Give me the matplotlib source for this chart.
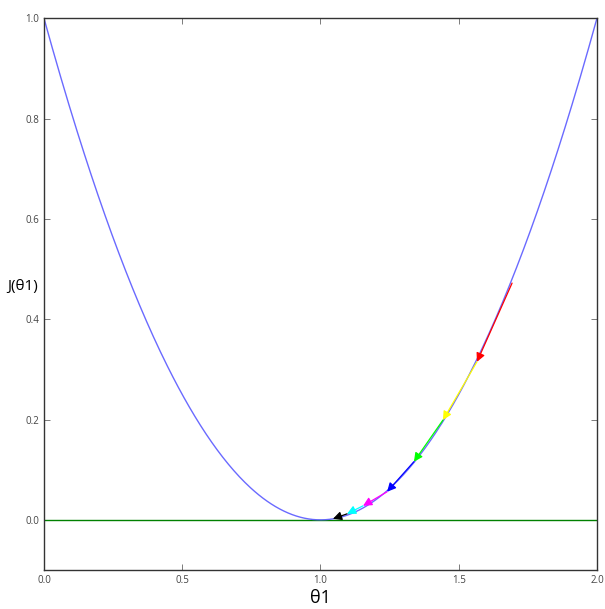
import numpy as np
import matplotlib.pyplot as plt

# punkty spadku gradientu
theta_steps = [1.693, 1.566, 1.443, 1.338, 1.241, 1.154, 1.096, 1.045]
cost_steps = [0.472, 0.315, 0.199, 0.116, 0.056, 0.028, 0.012, 0.002]
arrow_colors = ['red', 'yellow', 'lime', 'blue', 'magenta', 'cyan', 'black']

x_ticks = [0.0, 0.5, 1.0, 1.5, 2.0]
y_ticks = [0.0, 0.2, 0.4, 0.6, 0.8, 1.0]


def cost(theta):
    return (theta - 1.0) ** 2


plt.rcParams['font.family'] = ['Open Sans', 'DejaVu Sans']

fig = plt.figure(figsize=(6.05, 6.09), dpi=100)
ax = fig.add_axes([0.0727, 0.064, 0.914, 0.906])

theta = np.linspace(0, 2, 400)
ax.axhline(0, color='green', lw=1.0)

for i, c in enumerate(arrow_colors):
    ax.annotate('', xy=(theta_steps[i + 1], cost_steps[i + 1]),
                xytext=(theta_steps[i], cost_steps[i]),
                arrowprops=dict(arrowstyle='-|>', color=c, lw=0.9,
                                mutation_scale=13, shrinkA=0, shrinkB=0))

# krzywa na wierzchu, tak jak w oryginale
ax.plot(theta, cost(theta), color='#5a5aff', lw=1.0, alpha=0.9)

ax.set_xlim(0, 2)
ax.set_ylim(-0.1, 1.0)
ax.set_xticks(x_ticks)
ax.set_yticks(y_ticks)
ax.set_xticklabels([f'{t:.1f}' for t in x_ticks])
ax.set_yticklabels([f'{t:.1f}' for t in y_ticks])
ax.tick_params(direction='in', length=4, width=0.6, labelsize=7,
               labelcolor='#444444', color='#666666',
               top=True, right=True)
for s in ax.spines.values():
    s.set_color('#333333')
    s.set_linewidth(1.0)

ax.set_xlabel('θ1', fontsize=13, labelpad=2)
ax.set_ylabel('J(θ1)', fontsize=11, rotation=0, labelpad=2)

fig.savefig('out.png', dpi=100)
